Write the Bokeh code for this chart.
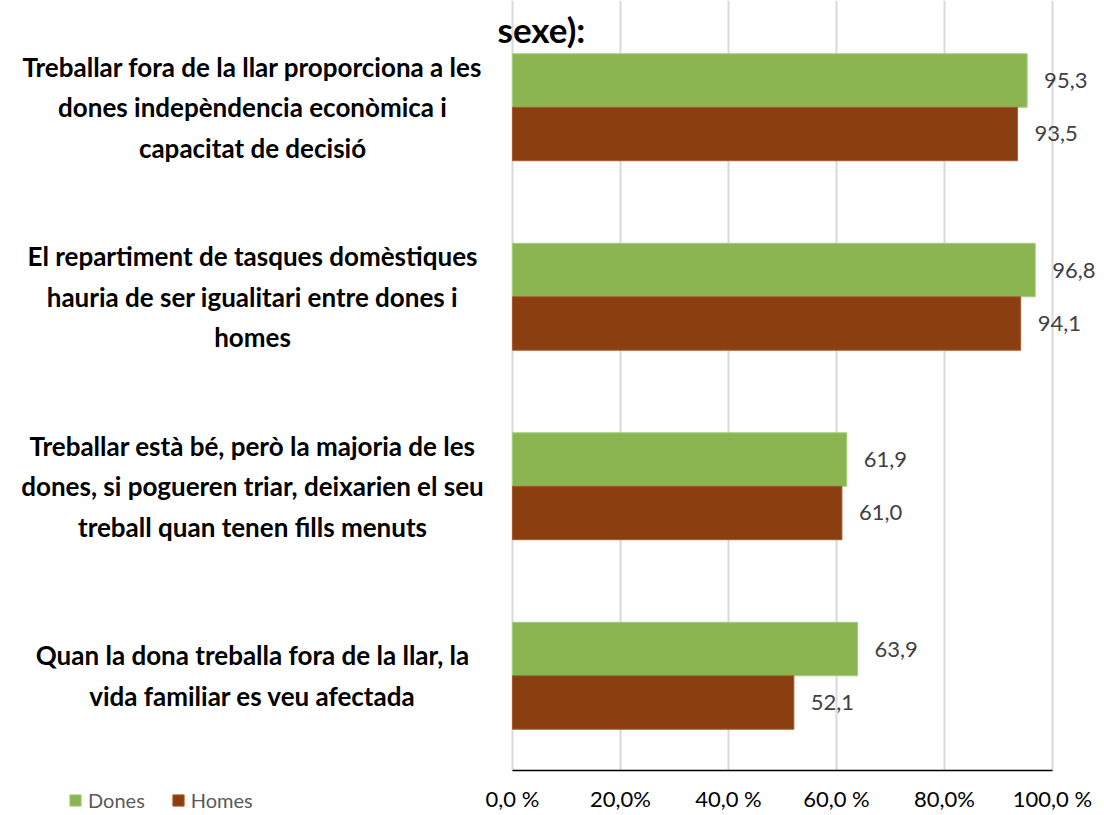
from bokeh.plotting import figure
from bokeh.models import Range1d, FixedTicker, ColumnDataSource, Legend, LegendItem, LinearAxis
from bokeh.core.properties import value
from bokeh.embed import file_html
from bokeh.resources import INLINE

# ---- data ----
categories = [
    "Treballar fora de la llar proporciona a les\ndones indepèndencia econòmica i\ncapacitat de decisió",
    "El repartiment de tasques domèstiques\nhauria de ser igualitari entre dones i\nhomes",
    "Treballar està bé, però la majoria de les\ndones, si pogueren triar, deixarien el seu\ntreball quan tenen fills menuts",
    "Quan la dona treballa fora de la llar, la\nvida familiar es veu afectada",
]
dones = [95.3, 96.8, 61.9, 63.9]
homes = [93.5, 94.1, 61.0, 52.1]
series_names = ["Dones", "Homes"]
tick_values = [0, 20, 40, 60, 80, 100]
tick_labels = ["0,0 %", "20,0%", "40,0 %", "60,0 %", "80,0%", "100,0 %"]
title_text = "sexe):"

# ---- styling ----
GREEN = "#8AB550"
BROWN = "#8B3E10"
FONT = "Lato"

n = len(categories)
centers = [n - 0.5 - i for i in range(n)]
bar_h = 0.282

def fmt(v):
    return f"{v:.1f}".replace(".", ",")

src_d = ColumnDataSource(dict(y=[c + bar_h / 2 for c in centers], v=dones,
                              lab=[fmt(v) for v in dones]))
src_h = ColumnDataSource(dict(y=[c - bar_h / 2 for c in centers], v=homes,
                              lab=[fmt(v) for v in homes]))
src_c = ColumnDataSource(dict(y=centers, t=categories))

W, H = 1100, 812
px_x = 5.4      # pixels per percentage point
px_y = 189.5    # pixels per category
x_left = -512 / px_x
x_right = (W - 512) / px_x
y_bottom = -(H - 770) / px_y
y_top = n + 12 / px_y

p = figure(width=W, height=H, output_backend="svg", toolbar_location=None,
           x_range=Range1d(x_left, x_right), y_range=Range1d(y_bottom, y_top),
           x_axis_location=None, y_axis_location=None,
           min_border_left=0, min_border_right=0,
           min_border_top=0, min_border_bottom=0)
p.outline_line_color = None
p.background_fill_color = "white"
p.border_fill_color = "white"
p.xgrid.grid_line_color = None
p.ygrid.grid_line_color = None

# vertical gridlines from the tick values, between axis and top of plot area
p.segment(x0=tick_values, x1=tick_values, y0=[0] * len(tick_values),
          y1=[y_top] * len(tick_values), line_color="#D9D9D9", line_width=2)

r_d = p.hbar(y="y", right="v", left=0, height=bar_h, source=src_d,
             fill_color=GREEN, line_color="#A6CC7C", line_width=1)
r_h = p.hbar(y="y", right="v", left=0, height=bar_h, source=src_h,
             fill_color=BROWN, line_color="#A55A2E", line_width=1)

p.text(x="v", y="y", text="lab", source=src_d, x_offset=17,
       text_baseline="middle", text_align="left", text_font=value(FONT),
       text_font_size="22px", text_color="#404040")
p.text(x="v", y="y", text="lab", source=src_h, x_offset=17,
       text_baseline="middle", text_align="left", text_font=value(FONT),
       text_font_size="22px", text_color="#404040")

# category labels
p.text(x=(252 - 512) / px_x, y="y", text="t", source=src_c, text_align="center",
       text_baseline="middle", text_font=value(FONT), text_font_style="bold",
       text_font_size="26px", text_color="#000000", text_line_height=1.27)

# cut-off title
p.text(x=[-15 / px_x], y=[y_top - 28 / px_y], text=[title_text], text_align="left",
       text_baseline="middle", text_font=value(FONT), text_font_style="bold",
       text_font_size="35px", text_color="#000000")

# x axis drawn at y = 0 inside the frame
xa = LinearAxis(fixed_location=0)
xa.ticker = FixedTicker(ticks=tick_values)
xa.major_label_overrides = {t: l for t, l in zip(tick_values, tick_labels)}
xa.bounds = (0, 100)
xa.axis_line_color = "#000000"
xa.axis_line_width = 1.5
xa.major_tick_line_color = None
xa.minor_tick_line_color = None
xa.major_label_standoff = 8
xa.major_label_text_font = FONT
xa.major_label_text_font_size = "22px"
xa.major_label_text_color = "#000000"
p.add_layout(xa, "below")

legend = Legend(items=[LegendItem(label=series_names[0], renderers=[r_d]),
                       LegendItem(label=series_names[1], renderers=[r_h])],
                location=(68, 0), orientation="horizontal",
                glyph_width=14, glyph_height=14, label_text_font=FONT,
                label_text_font_size="20px", label_text_color="#595959",
                border_line_color=None, background_fill_alpha=0,
                padding=0, margin=0, spacing=26, label_standoff=6)
p.add_layout(legend, "center")

open("out.html", "w").write(file_html(p, INLINE))
